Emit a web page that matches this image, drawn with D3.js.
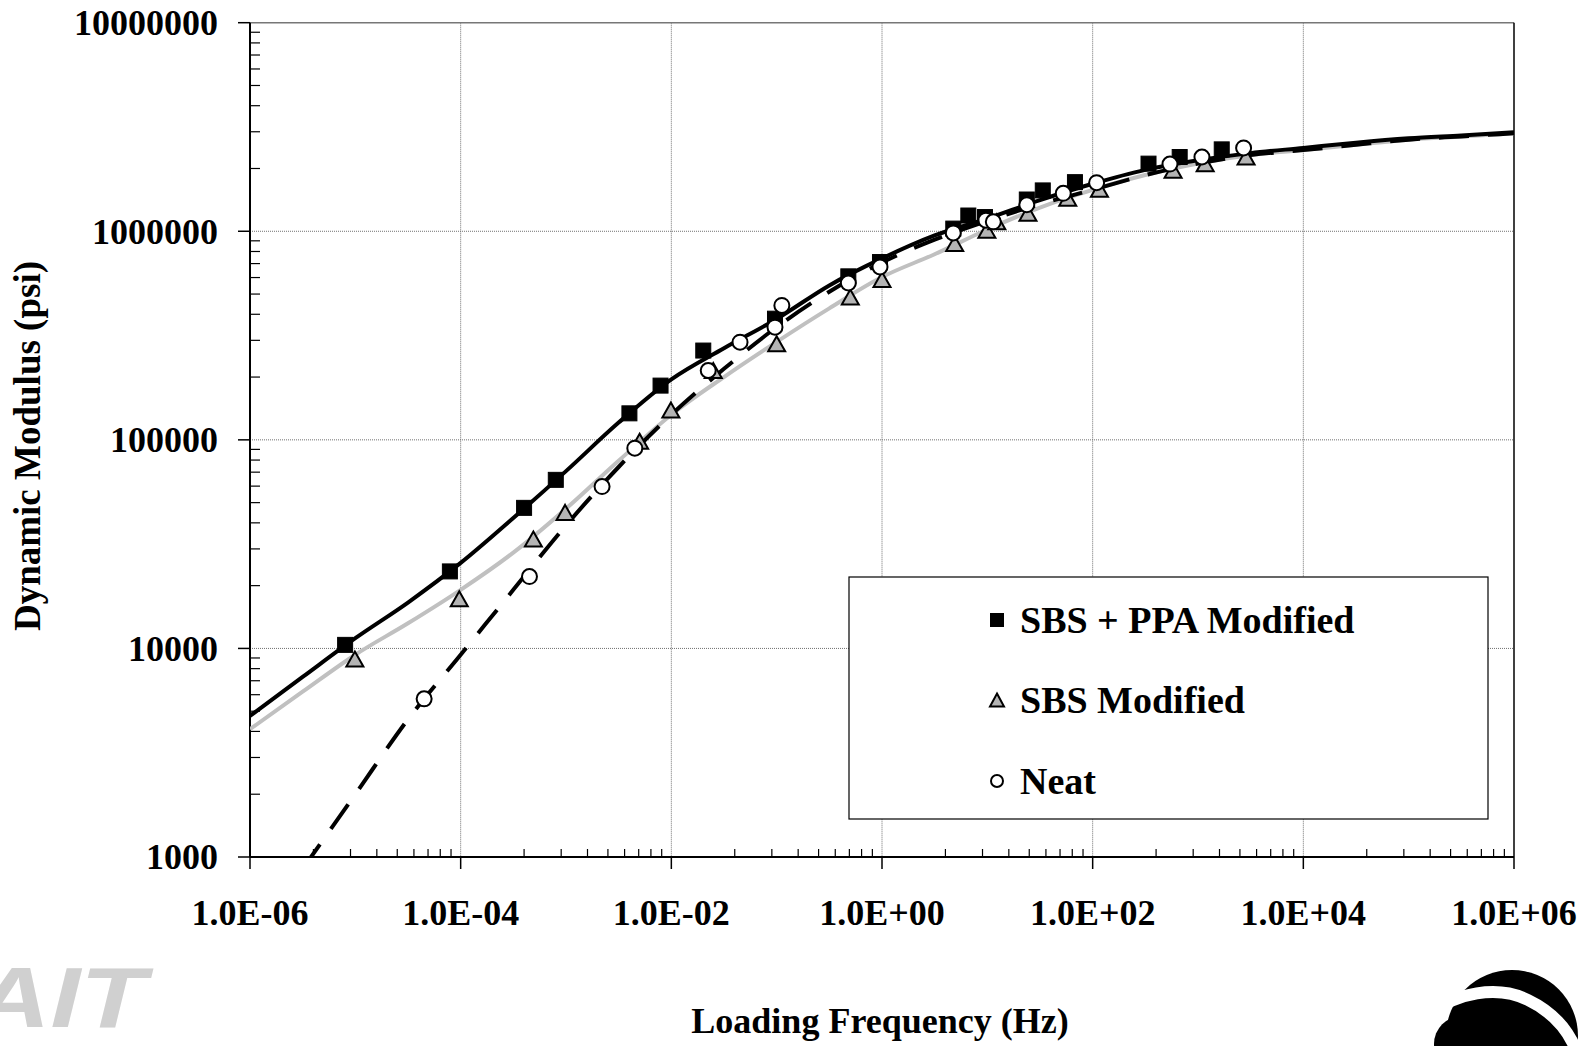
<!DOCTYPE html>
<html>
<head>
<meta charset="utf-8">
<script src="https://cdn.jsdelivr.net/npm/d3@7"></script>
<style>
  body { margin: 0; background: #fff; }
  svg { display: block; }
  text { font-family: "Liberation Serif", "Times New Roman", serif; font-weight: bold; fill: #000; }
</style>
</head>
<body>
<div id="main"></div>
<script>
// DATA

// fitted master curves, sampled every half decade
var curve_freq = [1e-6, 3.16e-6, 1e-5, 3.16e-5, 1e-4, 3.16e-4, 1e-3, 3.16e-3, 1e-2, 3.16e-2,
  0.1, 0.316, 1, 3.16, 10, 31.6, 100, 316, 1000, 3160, 1e4, 3.16e4, 1e5, 3.16e5, 1e6]
var curve_sbs_ppa = [4750, 7300, 11200, 16600, 25700, 42200, 70800, 121000, 195000, 275000,
  380000, 550000, 741000, 955000, 1150000, 1410000, 1690000, 1970000, 2190000, 2370000,
  2510000, 2660000, 2790000, 2880000, 2980000]
var curve_sbs = [4100, 6200, 9330, 13200, 19100, 28800, 46800, 79400, 132000, 200000,
  295000, 427000, 603000, 776000, 1020000, 1300000, 1580000, 1860000, 2110000, 2320000,
  2450000, 2600000, 2750000, 2850000, 2950000]
var curve_neat = [null, 877, 2000, 4570, 9330, 19100, 38900, 74100, 132000, 219000,
  347000, 513000, 708000, 912000, 1120000, 1350000, 1580000, 1860000, 2110000, 2320000,
  2450000, 2600000, 2750000, 2850000, 2950000]

// measured points
var sbs_ppa_freq = [8.0e-6, 7.9e-5, 4.0e-4, 8.0e-4, 4.0e-3, 7.9e-3, 0.0201, 0.0964, 0.479, 0.957,
  4.75, 6.6, 9.5, 23.7, 33.6, 67.9, 339, 670, 1680]
var sbs_ppa_mod = [10400, 23400, 47200, 64300, 134000, 182000, 268000, 381000, 608000, 712000,
  1030000, 1190000, 1170000, 1420000, 1570000, 1720000, 2110000, 2270000, 2470000]

var sbs_freq = [9.9e-6, 9.7e-5, 4.9e-4, 9.8e-4, 5.0e-3, 9.9e-3, 0.025, 0.1, 0.50, 1.0,
  4.9, 9.9, 12.3, 24.3, 58, 116, 580, 1170, 2860]
var sbs_mod = [8900, 17300, 33500, 44900, 98500, 139000, 215000, 289000, 484000, 587000,
  873000, 1010000, 1110000, 1220000, 1440000, 1590000, 1960000, 2110000, 2270000]

var neat_freq = [4.5e-5, 4.5e-4, 2.2e-3, 4.5e-3, 0.0224, 0.0449, 0.0964, 0.112, 0.479, 0.957,
  4.75, 9.7, 11.4, 23.7, 52.6, 109, 542, 1090, 2710]
var neat_mod = [5730, 22100, 59700, 91200, 215000, 294000, 347000, 441000, 565000, 674000,
  982000, 1130000, 1110000, 1340000, 1520000, 1710000, 2100000, 2270000, 2510000]

var x_ticks = [1e-6, 1e-4, 1e-2, 1, 1e2, 1e4, 1e6]
var x_tick_labels = ['1.0E-06', '1.0E-04', '1.0E-02', '1.0E+00', '1.0E+02', '1.0E+04', '1.0E+06']
var y_ticks = [1000, 10000, 100000, 1000000, 10000000]
var y_tick_labels = ['1000', '10000', '100000', '1000000', '10000000']
var legend_labels = ['SBS + PPA Modified', 'SBS Modified', 'Neat']


// LAYOUT
var W = 1589, H = 1046
// note: 'top' is taken by window.top, so use prefixed names
var p_left = 250, p_right = 1514, p_top = 22.7, p_bottom = 857

var svg = d3.select('#main').append('svg')
  .attr('width', W).attr('height', H)

var x = d3.scaleLog().domain([1e-6, 1e6]).range([p_left, p_right])
var y = d3.scaleLog().domain([1000, 1e7]).range([p_bottom, p_top])

svg.append('clipPath').attr('id', 'plotclip')
  .append('rect').attr('x', p_left).attr('y', p_top)
  .attr('width', p_right - p_left).attr('height', p_bottom - p_top)

// gridlines (dotted)
var grid = svg.append('g')
grid.selectAll('line.vg').data(x_ticks.slice(1, -1)).join('line')
  .attr('x1', d => x(d)).attr('x2', d => x(d)).attr('y1', p_top).attr('y2', p_bottom)
  .attr('stroke', '#707070').attr('stroke-width', 1).attr('stroke-dasharray', '1,1')
grid.selectAll('line.hg').data(y_ticks.slice(1, -1)).join('line')
  .attr('x1', p_left).attr('x2', p_right).attr('y1', d => y(d)).attr('y2', d => y(d))
  .attr('stroke', '#707070').attr('stroke-width', 1).attr('stroke-dasharray', '1,1')

// frame
svg.append('line').attr('x1', p_left).attr('x2', p_right).attr('y1', p_top).attr('y2', p_top)
  .attr('stroke', '#777').attr('stroke-width', 1.5)
svg.append('line').attr('x1', p_right).attr('x2', p_right).attr('y1', p_top).attr('y2', p_bottom)
  .attr('stroke', '#000').attr('stroke-width', 1.5)

// y axis: major ticks outside, minor 2..9 inside
var yAxis = svg.append('g')
yAxis.append('line').attr('x1', p_left).attr('x2', p_left).attr('y1', p_top).attr('y2', p_bottom)
  .attr('stroke', '#000').attr('stroke-width', 2)
yAxis.selectAll('line.major').data(y_ticks).join('line')
  .attr('x1', p_left - 12).attr('x2', p_left).attr('y1', d => y(d)).attr('y2', d => y(d))
  .attr('stroke', '#000').attr('stroke-width', 1.5)
var y_minor = []
for (let dec of y_ticks.slice(0, -1)) for (let k = 2; k <= 9; k++) y_minor.push(dec * k)
yAxis.selectAll('line.minor').data(y_minor).join('line')
  .attr('x1', p_left).attr('x2', p_left + 10).attr('y1', d => y(d)).attr('y2', d => y(d))
  .attr('stroke', '#000').attr('stroke-width', 1.2)
yAxis.selectAll('text').data(y_ticks).join('text')
  .attr('x', p_left - 32).attr('y', d => y(d)).attr('dy', '0.34em')
  .attr('text-anchor', 'end').style('font-size', '36px')
  .text((d, i) => y_tick_labels[i])

// x axis: major every 2 decades, minor at log10(k) of each 2-decade span
var xAxis = svg.append('g')
xAxis.append('line').attr('x1', p_left).attr('x2', p_right).attr('y1', p_bottom).attr('y2', p_bottom)
  .attr('stroke', '#000').attr('stroke-width', 2)
xAxis.selectAll('line.major').data(x_ticks).join('line')
  .attr('x1', d => x(d)).attr('x2', d => x(d)).attr('y1', p_bottom).attr('y2', p_bottom + 12)
  .attr('stroke', '#000').attr('stroke-width', 1.5)
var x_minor = []
for (let major of x_ticks.slice(0, -1)) for (let k = 2; k <= 9; k++) x_minor.push(major * k * k)
xAxis.selectAll('line.minor').data(x_minor).join('line')
  .attr('x1', d => x(d)).attr('x2', d => x(d)).attr('y1', p_bottom - 8).attr('y2', p_bottom)
  .attr('stroke', '#000').attr('stroke-width', 1.2)
xAxis.selectAll('text').data(x_ticks).join('text')
  .attr('x', d => x(d)).attr('y', 925)
  .attr('text-anchor', 'middle').style('font-size', '36px')
  .text((d, i) => x_tick_labels[i])

// axis titles
svg.append('text').attr('transform', 'translate(40,446) rotate(-90)')
  .attr('text-anchor', 'middle').style('font-size', '37px')
  .text('Dynamic Modulus (psi)')
svg.append('text').attr('x', 880).attr('y', 1033)
  .attr('text-anchor', 'middle').style('font-size', '36px')
  .text('Loading Frequency (Hz)')

// curves
var plot = svg.append('g').attr('clip-path', 'url(#plotclip)')
function curve_line(values) {
  var pts = curve_freq.map((f, i) => [f, values[i]]).filter(p => p[1] != null)
  return d3.line().x(p => x(p[0])).y(p => y(p[1])).curve(d3.curveMonotoneX)(pts)
}
plot.append('path').attr('d', curve_line(curve_sbs))
  .attr('fill', 'none').attr('stroke', '#c0c0c0').attr('stroke-width', 4)
plot.append('path').attr('d', curve_line(curve_sbs_ppa))
  .attr('fill', 'none').attr('stroke', '#000').attr('stroke-width', 4)
plot.append('path').attr('d', curve_line(curve_neat))
  .attr('fill', 'none').attr('stroke', '#000').attr('stroke-width', 4)
  .attr('stroke-dasharray', '30,19')

// markers
function square(g, cx, cy, s) {
  g.append('rect').attr('x', cx - s / 2).attr('y', cy - s / 2).attr('width', s).attr('height', s)
    .attr('fill', '#000').attr('stroke', '#000').attr('stroke-width', 1)
}
function triangle(g, cx, cy, w, h) {
  g.append('path')
    .attr('d', `M${cx},${cy - h / 2}L${cx + w / 2},${cy + h / 2}L${cx - w / 2},${cy + h / 2}Z`)
    .attr('fill', '#b4b4b4').attr('stroke', '#000').attr('stroke-width', 2)
}
function circle(g, cx, cy, r) {
  g.append('circle').attr('cx', cx).attr('cy', cy).attr('r', r)
    .attr('fill', '#fff').attr('stroke', '#000').attr('stroke-width', 2)
}
var marks = svg.append('g')
sbs_ppa_freq.forEach((f, i) => square(marks, x(f), y(sbs_ppa_mod[i]), 15))
sbs_freq.forEach((f, i) => triangle(marks, x(f), y(sbs_mod[i]), 17, 15))
neat_freq.forEach((f, i) => circle(marks, x(f), y(neat_mod[i]), 7.5))

// legend
var lg = svg.append('g')
lg.append('rect').attr('x', 849).attr('y', 577).attr('width', 639).attr('height', 242)
  .attr('fill', '#fff').attr('stroke', '#000').attr('stroke-width', 1.2)
var rows = [620, 700, 781]
square(lg, 997, rows[0], 13)
triangle(lg, 997, rows[1], 14, 13)
circle(lg, 997, rows[2], 6)
lg.selectAll('text').data(legend_labels).join('text')
  .attr('x', 1020).attr('y', (d, i) => rows[i]).attr('dy', '0.35em')
  .style('font-size', '38px')
  .text(d => d)

// logos
svg.append('text').attr('transform', 'translate(146,1027) scale(1.25,1)').attr('text-anchor', 'end')
  .style('font-family', '"Liberation Sans", Arial, sans-serif')
  .style('font-style', 'italic').style('font-weight', 'bold').style('font-size', '86px')
  .style('fill', '#d0d0d0')
  .text('AIT')
var logo = svg.append('g')
logo.append('circle').attr('cx', 1512).attr('cy', 1036).attr('r', 66).attr('fill', '#000')
logo.append('path')
  .attr('d', 'M1428,1016 C1455,992 1498,985 1528,1000 C1553,1012 1568,1030 1576,1050')
  .attr('fill', 'none').attr('stroke', '#fff').attr('stroke-width', 12)
logo.append('circle').attr('cx', 1462).attr('cy', 1044).attr('r', 28).attr('fill', '#000')
</script>
</body>
</html>
